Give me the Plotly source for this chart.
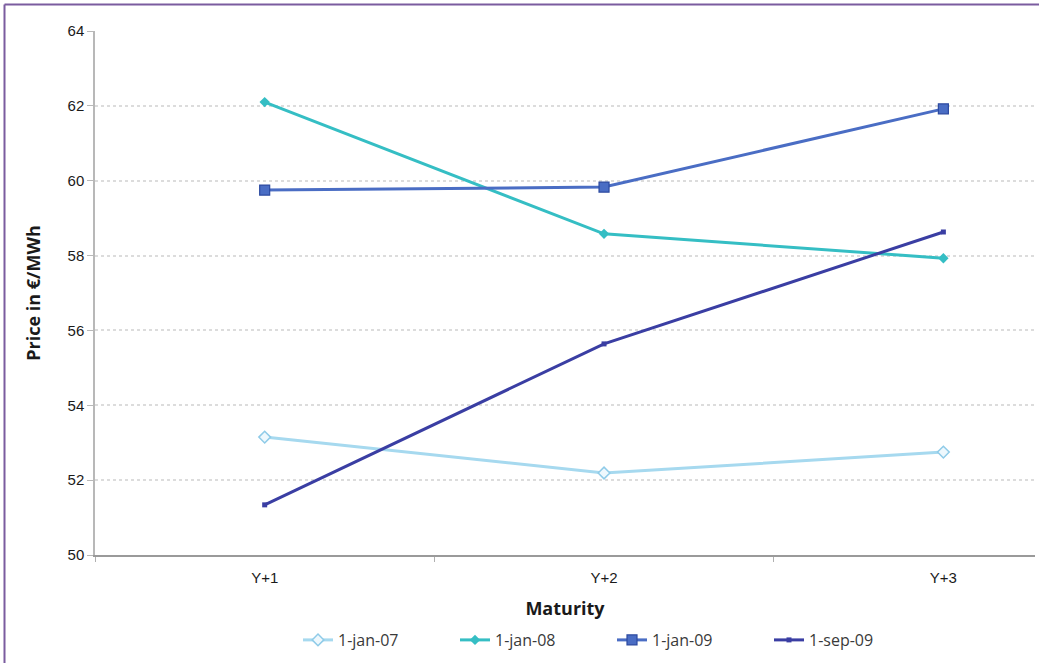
import plotly.graph_objects as go

# Forward maturities and price series (EUR/MWh)
maturities = ["Y+1", "Y+2", "Y+3"]
jan07 = [53.15, 52.19, 52.75]
jan08 = [62.10, 58.58, 57.93]
jan09 = [59.75, 59.83, 61.92]
sep09 = [51.34, 55.64, 58.63]
series_names = ["1-jan-07", "1-jan-08", "1-jan-09", "1-sep-09"]

W, H = 1039, 663
L, R, T, B = 95, 4, 31, 108

fig = go.Figure()

fig.add_trace(go.Scatter(
    x=maturities, y=jan07, name=series_names[0], mode="lines+markers",
    line=dict(color="#a6d9ef", width=3),
    marker=dict(symbol="diamond", size=9, color="#eef8fd",
                line=dict(color="#8fcbe8", width=1.5)),
))
fig.add_trace(go.Scatter(
    x=maturities, y=jan08, name=series_names[1], mode="lines+markers",
    line=dict(color="#35bec4", width=3),
    marker=dict(symbol="diamond", size=8, color="#35bec4"),
))
fig.add_trace(go.Scatter(
    x=maturities, y=jan09, name=series_names[2], mode="lines+markers",
    line=dict(color="#4a6dc4", width=3),
    marker=dict(symbol="square", size=10, color="#4a6dc4",
                line=dict(color="#2c4aa0", width=1.2)),
))
fig.add_trace(go.Scatter(
    x=maturities, y=sep09, name=series_names[3], mode="lines+markers",
    line=dict(color="#3a3ea3", width=3),
    marker=dict(symbol="square", size=5, color="#3a3ea3"),
))

# purple frame along the top and left edges
px_x = lambda p: (p - L) / (W - L - R)
px_y = lambda p: 1 + (T - p) / (H - T - B)
frame = dict(color="#7b5c9f", width=2)
fig.add_shape(type="line", xref="paper", yref="paper",
              x0=px_x(4.5), x1=px_x(W + 5), y0=px_y(4.5), y1=px_y(4.5), line=frame)
fig.add_shape(type="line", xref="paper", yref="paper",
              x0=px_x(4.5), x1=px_x(4.5), y0=px_y(4.5), y1=px_y(H + 5), line=frame)

fig.update_layout(
    width=W, height=H,
    margin=dict(l=L, r=R, t=T, b=B),
    paper_bgcolor="white", plot_bgcolor="white",
    showlegend=True,
    legend=dict(orientation="h", x=px_x(298), xanchor="left", y=px_y(640), yanchor="middle",
                font=dict(family="Open Sans", size=16, color="#3a3a3a"),
                entrywidth=112, itemwidth=30, traceorder="normal"),
    xaxis=dict(
        type="category", range=[-0.5, 2.27], tickson="boundaries",
        showline=True, linecolor="#9a9a9a", linewidth=1.5,
        ticks="outside", ticklen=5, tickcolor="#b0b0b0",
        showgrid=False, zeroline=False, ticklabelstandoff=8,
        tickfont=dict(family="Liberation Sans", size=15, color="#1a1a1a"),
        title=dict(text="<b>Maturity</b>", standoff=18,
                   font=dict(family="Open Sans", size=18, color="#1a1a1a")),
    ),
    yaxis=dict(
        range=[50, 64], dtick=2,
        showline=True, linecolor="#b8b8b8", linewidth=1.5,
        ticks="outside", ticklen=6, tickcolor="#b8b8b8",
        showgrid=True, gridcolor="#dcdcdc", gridwidth=1.5, griddash="dot",
        zeroline=False,
        tickfont=dict(family="Liberation Sans", size=15, color="#1a1a1a"),
        title=dict(text="<b>Price in €/MWh</b>", standoff=22,
                   font=dict(family="Open Sans", size=18, color="#1a1a1a")),
    ),
)

fig.write_html("out.html")
